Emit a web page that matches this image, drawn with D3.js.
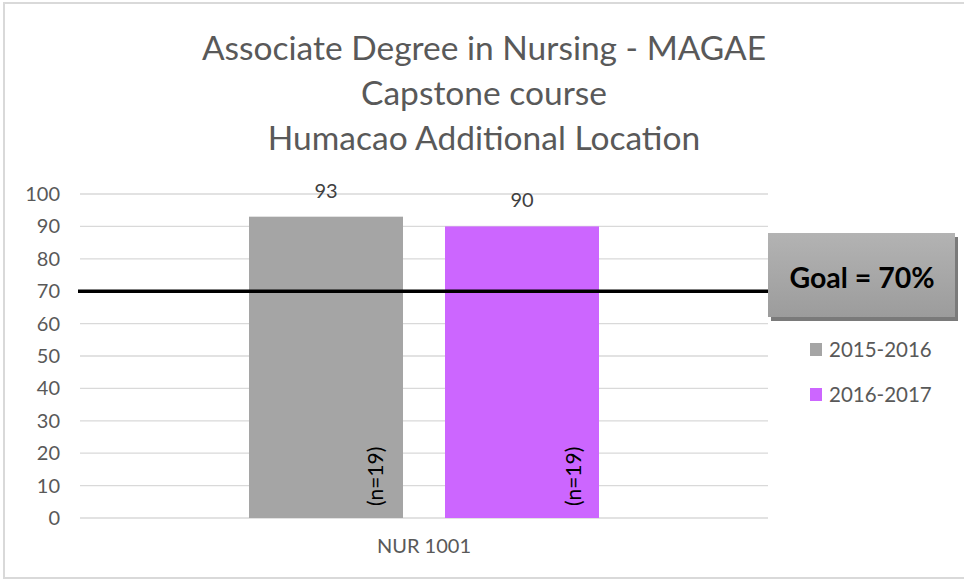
<!DOCTYPE html>
<html>
<head>
<meta charset="utf-8">
<script src="https://cdn.jsdelivr.net/npm/d3@7"></script>
<style>
  html, body { margin: 0; padding: 0; background: #fff; }
  svg { display: block; font-family: Lato, "Open Sans", sans-serif; }
</style>
</head>
<body>
<svg id="chart" width="964" height="580"></svg>
<script>
// Chart content
const titleLines = ["Associate Degree in Nursing - MAGAE", "Capstone course", "Humacao Additional Location"];
const categories = ["NUR 1001"];
const seriesNames = ["2015-2016", "2016-2017"];
const seriesValues = [93, 90];
const seriesCounts = ["(n=19)", "(n=19)"];
const seriesColors = ["#a5a5a5", "#cc66ff"];
const yTicks = [0, 10, 20, 30, 40, 50, 60, 70, 80, 90, 100];
const goalValue = 70;
const goalLabel = "Goal = 70%";

const svg = d3.select("#chart");
const W = 964, H = 580;
const plot = { left: 80, right: 768, top: 194, bottom: 518 };

// Outer frame
svg.append("rect")
  .attr("x", 4).attr("y", 3).attr("width", W + 10).attr("height", 575)
  .attr("fill", "#fff").attr("stroke", "#d9d9d9").attr("stroke-width", 2);

// Title
svg.append("g").selectAll("text").data(titleLines).join("text")
  .attr("x", 484).attr("y", (d, i) => 60 + i * 45)
  .attr("text-anchor", "middle")
  .attr("font-size", 33.5).attr("fill", "#595959")
  .text(d => d);

const y = d3.scaleLinear().domain([0, 100]).range([plot.bottom, plot.top]);
const x0 = d3.scaleBand().domain(categories).range([plot.left, plot.right]).paddingInner(0).paddingOuter(0);
const x1 = d3.scaleBand().domain(seriesNames).range([249 - plot.left, 599 - plot.left]).paddingInner(0.2143).paddingOuter(0);

// Gridlines
svg.append("g").selectAll("line").data(yTicks).join("line")
  .attr("x1", plot.left).attr("x2", plot.right)
  .attr("y1", d => y(d)).attr("y2", d => y(d))
  .attr("stroke", "#d9d9d9").attr("stroke-width", 1.3);

// Y axis labels
const yAxis = d3.axisLeft(y).tickValues(yTicks).tickSize(0).tickPadding(0);
const gy = svg.append("g").attr("transform", `translate(60,0)`).call(yAxis);
gy.select(".domain").remove();
gy.selectAll("text").attr("font-size", 20).attr("fill", "#595959")
  .attr("font-family", "Lato, sans-serif");

// X axis label
const xAxis = d3.axisBottom(x0).tickSize(0).tickPadding(0);
const gx = svg.append("g").attr("transform", `translate(0,539)`).call(xAxis);
gx.select(".domain").remove();
gx.selectAll("text").attr("font-size", 20).attr("fill", "#595959")
  .attr("font-family", "Lato, sans-serif");

// Bars
const data = seriesNames.map((s, i) => ({ s, v: seriesValues[i], n: seriesCounts[i], c: seriesColors[i] }));
const g = svg.append("g").attr("transform", `translate(${x0(categories[0])},0)`);
g.selectAll("rect").data(data).join("rect")
  .attr("x", d => x1(d.s)).attr("width", x1.bandwidth())
  .attr("y", d => y(d.v)).attr("height", d => y(0) - y(d.v))
  .attr("fill", d => d.c);

// Value labels
g.selectAll("text.val").data(data).join("text").attr("class", "val")
  .attr("x", d => x1(d.s) + x1.bandwidth() / 2)
  .attr("y", d => y(d.v) - 19)
  .attr("text-anchor", "middle").attr("font-size", 20).attr("fill", "#404040")
  .text(d => d.v);

// Sample size labels (rotated)
g.selectAll("text.n").data(data).join("text").attr("class", "n")
  .attr("transform", (d, i) => `translate(${x1(d.s) + x1.bandwidth() - (i === 0 ? 20 : 18)},${y(0) - 12}) rotate(-90)`)
  .attr("font-size", 21).attr("fill", "#000")
  .text(d => d.n);

// Goal line
svg.append("line")
  .attr("x1", 78).attr("x2", plot.right + 2)
  .attr("y1", y(goalValue)).attr("y2", y(goalValue))
  .attr("stroke", "#000").attr("stroke-width", 3.5);

// Goal box with gradient and shadow
const defs = svg.append("defs");
const grad = defs.append("linearGradient").attr("id", "goalGrad").attr("x1", 0).attr("y1", 0).attr("x2", 0).attr("y2", 1);
grad.append("stop").attr("offset", "0%").attr("stop-color", "#b3b3b3");
grad.append("stop").attr("offset", "100%").attr("stop-color", "#9c9c9c");
svg.append("rect").attr("x", 771).attr("y", 237).attr("width", 187).attr("height", 84)
  .attr("fill", "#7a7a7a");
svg.append("rect").attr("x", 768).attr("y", 233).attr("width", 187).attr("height", 84)
  .attr("fill", "url(#goalGrad)");
svg.append("text").attr("x", 862).attr("y", 288)
  .attr("text-anchor", "middle").attr("font-size", 28.5).attr("font-weight", "bold")
  .attr("fill", "#000").text(goalLabel);

// Legend
const lg = svg.append("g").selectAll("g").data(data).join("g")
  .attr("transform", (d, i) => `translate(810,${343 + i * 45})`);
lg.append("rect").attr("width", 12).attr("height", 13).attr("fill", d => d.c);
lg.append("text").attr("x", 19).attr("y", 14).attr("font-size", 20.5).attr("fill", "#595959")
  .text(d => d.s);
</script>
</body>
</html>
